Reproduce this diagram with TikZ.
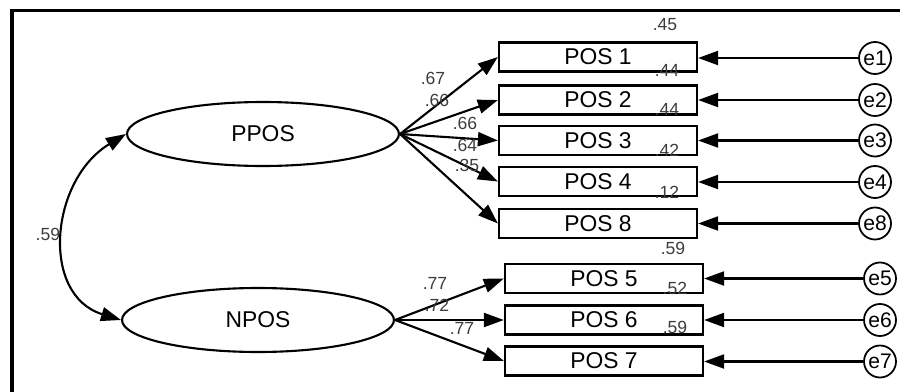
\documentclass[tikz,border=0pt]{standalone}
\usepackage{fontspec}
\setmainfont{Liberation Sans}
\usepackage{tikz}
\usetikzlibrary{shapes.geometric, arrows.meta, positioning, calc}
\definecolor{estgray}{RGB}{60, 60, 60}

\tikzset{
    latent/.style={ellipse, draw, line width=1.2pt, minimum width=5.44cm,
        minimum height=1.28cm, inner sep=0pt, font=\fontsize{13}{15}\selectfont},
    observed/.style={rectangle, draw, line width=1.3pt, minimum width=3.96cm,
        minimum height=0.58cm, inner sep=0pt, font=\fontsize{13}{15}\selectfont},
    errvar/.style={circle, draw, line width=1pt, minimum size=0.64cm,
        inner sep=0pt, font=\fontsize{12}{14}\selectfont},
    estim/.style={inner sep=0pt, text=estgray, font=\fontsize{10}{12}\selectfont},
    loadarrow/.style={-{Triangle[length=0.4cm, width=0.28cm]}, line width=1.2pt},
}

\begin{document}
\begin{tikzpicture}[x=0.02cm, y=-0.02cm]
            \useasboundingbox (0,0) rectangle (900,392);
            \draw[line width=2pt] (12,392) -- (12,10.5) -- (900,10.5);

            % factors
            \node[latent] (ppos) at (263,134) {PPOS};
            \node[latent] (npos) at (258,320) {NPOS};

            % items
            \node[observed] (pos1) at (598,57) {POS 1};
            \node[observed] (pos2) at (598,100) {POS 2};
            \node[observed] (pos3) at (598,140.5) {POS 3};
            \node[observed] (pos4) at (598,181.5) {POS 4};
            \node[observed] (pos8) at (598,223.5) {POS 8};
            \node[observed] (pos5) at (604,278.5) {POS 5};
            \node[observed] (pos6) at (604,320) {POS 6};
            \node[observed] (pos7) at (604,361) {POS 7};

            % errors
            \node[errvar] (e1) at (875,58) {e1};
            \node[errvar] (e2) at (875,100) {e2};
            \node[errvar] (e3) at (875,140.5) {e3};
            \node[errvar] (e4) at (875,182) {e4};
            \node[errvar] (e8) at (875,223.5) {e8};
            \node[errvar] (e5) at (880,278.5) {e5};
            \node[errvar] (e6) at (880,320) {e6};
            \node[errvar] (e7) at (880,361.5) {e7};

            \draw[loadarrow] (ppos.east) -- (pos1.west);
            \draw[loadarrow] (ppos.east) -- (pos2.west);
            \draw[loadarrow] (ppos.east) -- (pos3.west);
            \draw[loadarrow] (ppos.east) -- (pos4.west);
            \draw[loadarrow] (ppos.east) -- (pos8.west);
            \draw[loadarrow] (npos.east) -- (pos5.west);
            \draw[loadarrow] (npos.east) -- (pos6.west);
            \draw[loadarrow] (npos.east) -- (pos7.west);

            \draw[loadarrow] (e1.west) -- (e1.west -| pos1.east);
            \draw[loadarrow] (e2.west) -- (e2.west -| pos2.east);
            \draw[loadarrow] (e3.west) -- (e3.west -| pos3.east);
            \draw[loadarrow] (e4.west) -- (e4.west -| pos4.east);
            \draw[loadarrow] (e8.west) -- (e8.west -| pos8.east);
            \draw[loadarrow] (e5.west) -- (e5.west -| pos5.east);
            \draw[loadarrow] (e6.west) -- (e6.west -| pos6.east);
            \draw[loadarrow] (e7.west) -- (e7.west -| pos7.east);

            \draw[{Triangle[length=0.4cm, width=0.28cm]}-{Triangle[length=0.4cm, width=0.28cm]},
                  line width=1.2pt] (ppos.west) .. controls (50,180) and (40,295) .. (npos.west)
                node[pos=0.5, left=2pt, estim] (cov) {.59};

            % loadings
            \node[estim] (l1) at (433,78) {.67};
            \node[estim] (l2) at (437,100) {.66};
            \node[estim] (l3) at (465,123) {.66};
            \node[estim] (l4) at (465,145) {.64};
            \node[estim] (l8) at (467,165) {.35};
            \node[estim] (l5) at (435,283) {.77};
            \node[estim] (l6) at (437,305) {.72};
            \node[estim] (l7) at (462,328) {.77};

            % squared multiple correlations
            \node[estim] (r1) at (665,25) {.45};
            \node[estim] (r2) at (667,70) {.44};
            \node[estim] (r3) at (667,109) {.44};
            \node[estim] (r4) at (667,150) {.42};
            \node[estim] (r8) at (667,192) {.12};
            \node[estim] (r5) at (673,248) {.59};
            \node[estim] (r6) at (675,288) {.52};
            \node[estim] (r7) at (675,327) {.59};
        \end{tikzpicture}
\end{document}
